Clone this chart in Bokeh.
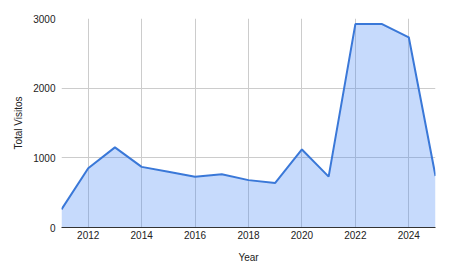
from bokeh.plotting import figure
from bokeh.models import ColumnDataSource, Range1d, FixedTicker
from bokeh.embed import file_html
from bokeh.resources import INLINE

years = [2011, 2012, 2013, 2014, 2015, 2016, 2017, 2018, 2019, 2020, 2021, 2022, 2023, 2024, 2025]
visitors = [260, 850, 1150, 870, 800, 730, 765, 680, 640, 1120, 730, 2920, 2920, 2730, 740]
x_ticks = [2012, 2014, 2016, 2018, 2020, 2022, 2024]
y_ticks = [0, 1000, 2000, 3000]

src = ColumnDataSource(dict(x=years, y=visitors, y0=[0] * len(years)))

p = figure(width=450, height=277, output_backend="svg", toolbar_location=None,
           x_range=Range1d(2011, 2025), y_range=Range1d(0, 3000),
           min_border_left=61, min_border_right=15, min_border_top=18, min_border_bottom=50)
p.outline_line_color = None
p.background_fill_color = "white"
p.border_fill_color = "white"

p.varea(x="x", y1="y0", y2="y", source=src, fill_color="#4285f4", fill_alpha=0.3)
p.line(x="x", y="y", source=src, line_color="#3a78d8", line_width=2)

font = "Liberation Sans"
for ax in (p.xaxis[0], p.yaxis[0]):
    ax.major_label_text_font = font
    ax.major_label_text_font_size = "10px"
    ax.major_label_text_color = "#222222"
    ax.axis_label_text_font = font
    ax.axis_label_text_font_size = "10px"
    ax.axis_label_text_font_style = "normal"
    ax.axis_label_text_color = "#222222"
    ax.major_tick_line_color = None
    ax.minor_tick_line_color = None
    ax.major_tick_out = 0
    ax.major_tick_in = 0
    ax.minor_tick_out = 0
    ax.minor_tick_in = 0

p.xaxis.ticker = FixedTicker(ticks=x_ticks)
p.yaxis.ticker = FixedTicker(ticks=y_ticks)
p.xaxis.axis_label = "Year"
p.yaxis.axis_label = "Total Visitos"
p.xaxis.axis_line_color = "#333333"
p.xaxis.axis_line_width = 1
p.yaxis.axis_line_color = None
p.xaxis.major_label_standoff = 3
p.xaxis.axis_label_standoff = 10
p.yaxis.major_label_standoff = 6
p.yaxis.axis_label_standoff = 6

p.xgrid.ticker = FixedTicker(ticks=x_ticks)
p.ygrid.ticker = FixedTicker(ticks=y_ticks)
p.xgrid.grid_line_color = "#cccccc"
p.ygrid.grid_line_color = "#cccccc"

open("out.html", "w").write(file_html(p, INLINE))
